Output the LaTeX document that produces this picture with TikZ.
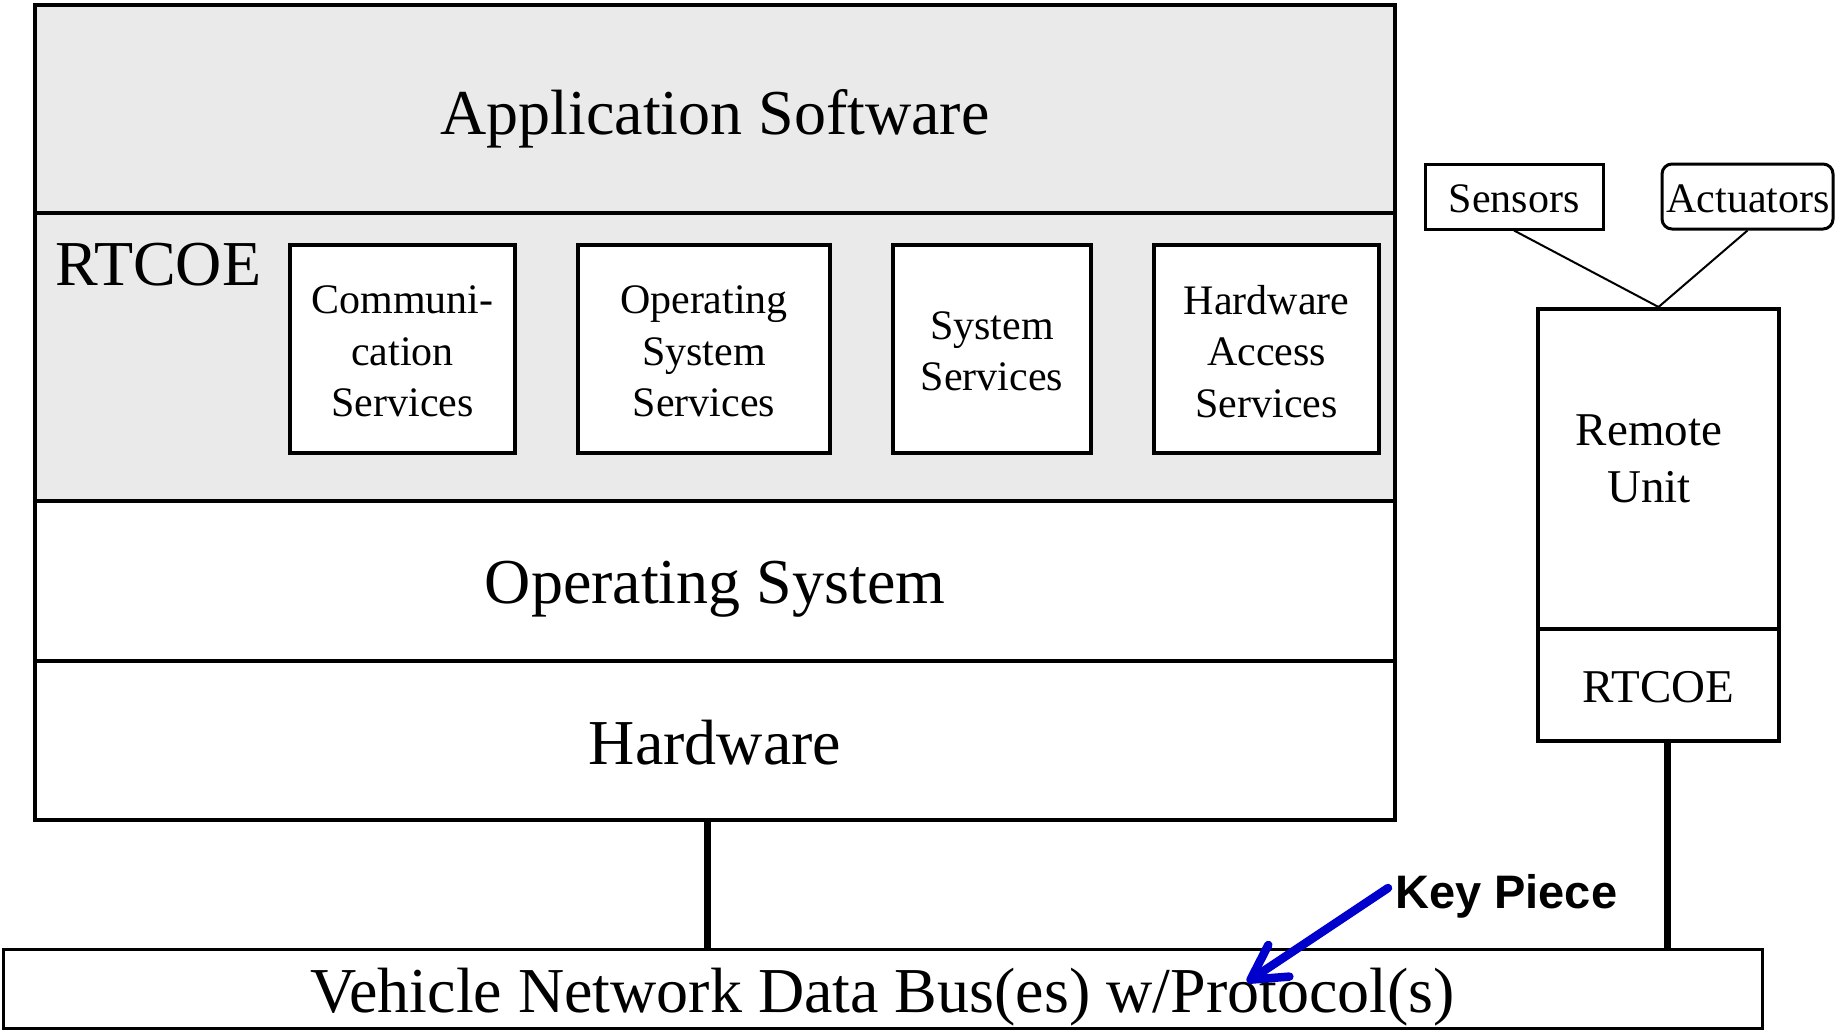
\documentclass[tikz,border=0pt]{standalone}
\usepackage{fontspec}
\setmainfont{Liberation Serif}
\setsansfont{Liberation Sans}
\usetikzlibrary{arrows.meta}
\definecolor{bandgray}{RGB}{234,234,234}
\definecolor{keyblue}{RGB}{0,0,204}
\begin{document}
\begin{tikzpicture}[x=1pt,y=-1pt,
  band/.style={draw, line width=4pt, inner sep=0pt, minimum width=1360pt},
  big/.style={inner sep=0pt, font=\fontsize{64}{70}\selectfont},
  svc/.style={draw, line width=3.5pt, fill=white, inner sep=0pt, align=center,
              minimum height=208pt, font=\fontsize{42}{51.5}\selectfont},
  svctext/.style={inner sep=0pt, align=center, font=\fontsize{42}{51.5}\selectfont},
  small/.style={draw, line width=3pt, inner sep=0pt, minimum height=65pt},
  smalltext/.style={inner sep=0pt, font=\fontsize{42}{48}\selectfont},
  rem/.style={draw, line width=4pt, inner sep=0pt, minimum width=241pt},
  thick link/.style={line width=7pt},
  thin link/.style={line width=2pt}]
\useasboundingbox (0,0) rectangle (1835,1030);
% main stack
\node[band, fill=bandgray, minimum height=208pt] (app) at (715,109) {};
\node[big] (apptxt) at (715,118.5) {Application Software};
\node[band, fill=bandgray, minimum height=288pt] (rtc) at (715,357) {};
\node[anchor=base west, big] (rtclabel) at (55,285) {RTCOE};
\node[band, minimum height=160pt] (os) at (715,581) {};
\node[big] (ostxt) at (715,589) {Operating System};
\node[band, minimum height=159pt] (hw) at (715,740.5) {};
\node[big] (hwtxt) at (715,743) {Hardware};
% services
\node[svc, minimum width=225pt] (comm) at (402.5,349) {};
\node[svctext] (commtxt) at (402.5,351.5) {Communi-\\cation\\Services};
\node[svc, minimum width=252pt] (oss) at (704,349) {};
\node[svctext] (osstxt) at (704,351.5) {Operating\\System\\Services};
\node[svc, minimum width=198pt] (sys) at (992,349) {};
\node[svctext] (systxt) at (992,351.5) {System\\Services};
\node[svc, minimum width=225pt] (has) at (1266.5,349) {};
\node[svctext] (hastxt) at (1266.5,351.5) {Hardware\\Access\\Services};
% remote unit
\node[small, minimum width=178pt] (sensors) at (1514,196.5) {};
\node[smalltext] (senstxt) at (1514,199) {Sensors};
\node[small, minimum width=171pt, rounded corners=10pt] (act) at (1747.5,196.5) {};
\node[smalltext] (acttxt) at (1748,199) {Actuators};
\node[rem, minimum height=320pt] (remote) at (1658.5,469) {};
\node[align=center, inner sep=0pt, font=\fontsize{47}{57}\selectfont] (remotetxt) at (1649,459) {Remote\\Unit};
\node[rem, minimum height=112pt] (rrt) at (1658.5,685) {};
\node[inner sep=0pt, font=\fontsize{47}{55}\selectfont] (rrttxt) at (1658.5,687.5) {RTCOE};
% bus
\node[draw, line width=3pt, inner sep=0pt, minimum width=1759pt, minimum height=79pt] (bus) at (882.5,988.5) {};
\node[big] (bustxt) at (882.5,997.5) {Vehicle Network Data Bus(es) w/Protocol(s)};
% links
\draw[thin link] (sensors.south) -- (remote.north);
\draw[thin link] (act.south) -- (remote.north);
\draw[thick link] ([xshift=-8pt]hw.south) -- ([xshift=-8pt]hw.south |- bus.north);
\draw[thick link] ([xshift=8.5pt]rrt.south) -- ([xshift=8.5pt]rrt.south |- bus.north);
% key piece
\node[anchor=west, inner sep=5pt, font=\fontsize{47}{52}\sffamily\bfseries] (key) at (1390,896.5) {Key Piece};
\coordinate (keytip) at (1247,982);
\draw[keyblue, line width=8.5pt, line cap=round, -{Straight Barb[length=34pt,width=38pt,round]}] ([xshift=-2pt,yshift=8.5pt]key.west) -- (keytip);
\end{tikzpicture}
\end{document}
